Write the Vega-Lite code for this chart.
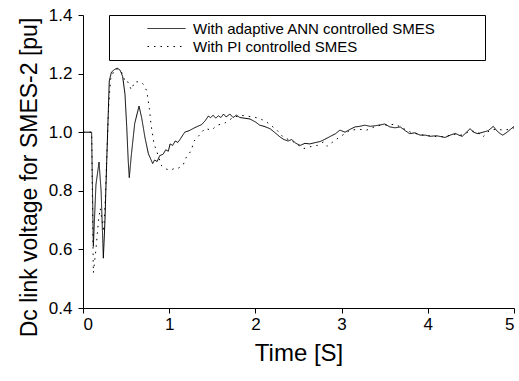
{
  "$schema": "https://vega.github.io/schema/vega-lite/v6.json",
  "width": 431,
  "height": 293,
  "autosize": {"type": "none"},
  "padding": {"left": 83, "top": 15, "right": 5, "bottom": 73},
  "background": "white",
  "config": {
    "view": {"stroke": null},
    "font": "Liberation Sans",
    "axis": {
      "grid": false,
      "domainColor": "black",
      "domainWidth": 1,
      "tickColor": "black",
      "tickSize": 5,
      "labelColor": "black",
      "labelFontSize": 17,
      "titleColor": "black",
      "titleFontSize": 24,
      "titleFontWeight": "normal"
    }
  },
  "data": {
    "values": [
      {"t": 0, "v": 1.0, "s": "With adaptive ANN controlled SMES"},
      {"t": 0.1, "v": 1.0, "s": "With adaptive ANN controlled SMES"},
      {"t": 0.12, "v": 0.61, "s": "With adaptive ANN controlled SMES"},
      {"t": 0.15, "v": 0.82, "s": "With adaptive ANN controlled SMES"},
      {"t": 0.186, "v": 0.898, "s": "With adaptive ANN controlled SMES"},
      {"t": 0.21, "v": 0.8, "s": "With adaptive ANN controlled SMES"},
      {"t": 0.236, "v": 0.57, "s": "With adaptive ANN controlled SMES"},
      {"t": 0.255, "v": 0.7, "s": "With adaptive ANN controlled SMES"},
      {"t": 0.275, "v": 0.9, "s": "With adaptive ANN controlled SMES"},
      {"t": 0.294, "v": 1.075, "s": "With adaptive ANN controlled SMES"},
      {"t": 0.305, "v": 1.175, "s": "With adaptive ANN controlled SMES"},
      {"t": 0.33, "v": 1.205, "s": "With adaptive ANN controlled SMES"},
      {"t": 0.37, "v": 1.215, "s": "With adaptive ANN controlled SMES"},
      {"t": 0.4, "v": 1.218, "s": "With adaptive ANN controlled SMES"},
      {"t": 0.43, "v": 1.212, "s": "With adaptive ANN controlled SMES"},
      {"t": 0.46, "v": 1.19, "s": "With adaptive ANN controlled SMES"},
      {"t": 0.487, "v": 1.13, "s": "With adaptive ANN controlled SMES"},
      {"t": 0.507, "v": 1.02, "s": "With adaptive ANN controlled SMES"},
      {"t": 0.525, "v": 0.9, "s": "With adaptive ANN controlled SMES"},
      {"t": 0.537, "v": 0.845, "s": "With adaptive ANN controlled SMES"},
      {"t": 0.56, "v": 0.92, "s": "With adaptive ANN controlled SMES"},
      {"t": 0.6, "v": 1.03, "s": "With adaptive ANN controlled SMES"},
      {"t": 0.65, "v": 1.089, "s": "With adaptive ANN controlled SMES"},
      {"t": 0.68, "v": 1.05, "s": "With adaptive ANN controlled SMES"},
      {"t": 0.72, "v": 0.98, "s": "With adaptive ANN controlled SMES"},
      {"t": 0.758, "v": 0.927, "s": "With adaptive ANN controlled SMES"},
      {"t": 0.808, "v": 0.893, "s": "With adaptive ANN controlled SMES"},
      {"t": 0.83, "v": 0.905, "s": "With adaptive ANN controlled SMES"},
      {"t": 0.86, "v": 0.9, "s": "With adaptive ANN controlled SMES"},
      {"t": 0.89, "v": 0.92, "s": "With adaptive ANN controlled SMES"},
      {"t": 0.93, "v": 0.925, "s": "With adaptive ANN controlled SMES"},
      {"t": 0.96, "v": 0.94, "s": "With adaptive ANN controlled SMES"},
      {"t": 0.99, "v": 0.935, "s": "With adaptive ANN controlled SMES"},
      {"t": 1.01, "v": 0.96, "s": "With adaptive ANN controlled SMES"},
      {"t": 1.04, "v": 0.955, "s": "With adaptive ANN controlled SMES"},
      {"t": 1.07, "v": 0.97, "s": "With adaptive ANN controlled SMES"},
      {"t": 1.1, "v": 0.965, "s": "With adaptive ANN controlled SMES"},
      {"t": 1.125, "v": 0.975, "s": "With adaptive ANN controlled SMES"},
      {"t": 1.18, "v": 1.0, "s": "With adaptive ANN controlled SMES"},
      {"t": 1.23, "v": 1.005, "s": "With adaptive ANN controlled SMES"},
      {"t": 1.28, "v": 1.013, "s": "With adaptive ANN controlled SMES"},
      {"t": 1.33, "v": 1.02, "s": "With adaptive ANN controlled SMES"},
      {"t": 1.377, "v": 1.026, "s": "With adaptive ANN controlled SMES"},
      {"t": 1.42, "v": 1.04, "s": "With adaptive ANN controlled SMES"},
      {"t": 1.454, "v": 1.055, "s": "With adaptive ANN controlled SMES"},
      {"t": 1.48, "v": 1.05, "s": "With adaptive ANN controlled SMES"},
      {"t": 1.51, "v": 1.058, "s": "With adaptive ANN controlled SMES"},
      {"t": 1.54, "v": 1.048, "s": "With adaptive ANN controlled SMES"},
      {"t": 1.57, "v": 1.056, "s": "With adaptive ANN controlled SMES"},
      {"t": 1.6, "v": 1.05, "s": "With adaptive ANN controlled SMES"},
      {"t": 1.63, "v": 1.062, "s": "With adaptive ANN controlled SMES"},
      {"t": 1.66, "v": 1.052, "s": "With adaptive ANN controlled SMES"},
      {"t": 1.705, "v": 1.062, "s": "With adaptive ANN controlled SMES"},
      {"t": 1.74, "v": 1.05, "s": "With adaptive ANN controlled SMES"},
      {"t": 1.78, "v": 1.058, "s": "With adaptive ANN controlled SMES"},
      {"t": 1.82, "v": 1.05, "s": "With adaptive ANN controlled SMES"},
      {"t": 1.87, "v": 1.048, "s": "With adaptive ANN controlled SMES"},
      {"t": 1.937, "v": 1.045, "s": "With adaptive ANN controlled SMES"},
      {"t": 2.0, "v": 1.035, "s": "With adaptive ANN controlled SMES"},
      {"t": 2.05, "v": 1.024, "s": "With adaptive ANN controlled SMES"},
      {"t": 2.1, "v": 1.02, "s": "With adaptive ANN controlled SMES"},
      {"t": 2.17, "v": 1.012, "s": "With adaptive ANN controlled SMES"},
      {"t": 2.22, "v": 1.0, "s": "With adaptive ANN controlled SMES"},
      {"t": 2.285, "v": 0.984, "s": "With adaptive ANN controlled SMES"},
      {"t": 2.33, "v": 0.975, "s": "With adaptive ANN controlled SMES"},
      {"t": 2.38, "v": 0.97, "s": "With adaptive ANN controlled SMES"},
      {"t": 2.42, "v": 0.975, "s": "With adaptive ANN controlled SMES"},
      {"t": 2.47, "v": 0.962, "s": "With adaptive ANN controlled SMES"},
      {"t": 2.52, "v": 0.955, "s": "With adaptive ANN controlled SMES"},
      {"t": 2.575, "v": 0.962, "s": "With adaptive ANN controlled SMES"},
      {"t": 2.63, "v": 0.96, "s": "With adaptive ANN controlled SMES"},
      {"t": 2.7, "v": 0.965, "s": "With adaptive ANN controlled SMES"},
      {"t": 2.75, "v": 0.968, "s": "With adaptive ANN controlled SMES"},
      {"t": 2.8, "v": 0.975, "s": "With adaptive ANN controlled SMES"},
      {"t": 2.865, "v": 0.985, "s": "With adaptive ANN controlled SMES"},
      {"t": 2.93, "v": 0.995, "s": "With adaptive ANN controlled SMES"},
      {"t": 2.98, "v": 1.007, "s": "With adaptive ANN controlled SMES"},
      {"t": 3.04, "v": 1.0, "s": "With adaptive ANN controlled SMES"},
      {"t": 3.1, "v": 1.01, "s": "With adaptive ANN controlled SMES"},
      {"t": 3.155, "v": 1.018, "s": "With adaptive ANN controlled SMES"},
      {"t": 3.21, "v": 1.02, "s": "With adaptive ANN controlled SMES"},
      {"t": 3.27, "v": 1.024, "s": "With adaptive ANN controlled SMES"},
      {"t": 3.33, "v": 1.02, "s": "With adaptive ANN controlled SMES"},
      {"t": 3.39, "v": 1.022, "s": "With adaptive ANN controlled SMES"},
      {"t": 3.45, "v": 1.025, "s": "With adaptive ANN controlled SMES"},
      {"t": 3.5, "v": 1.028, "s": "With adaptive ANN controlled SMES"},
      {"t": 3.56, "v": 1.018, "s": "With adaptive ANN controlled SMES"},
      {"t": 3.62, "v": 1.015, "s": "With adaptive ANN controlled SMES"},
      {"t": 3.68, "v": 1.018, "s": "With adaptive ANN controlled SMES"},
      {"t": 3.74, "v": 1.005, "s": "With adaptive ANN controlled SMES"},
      {"t": 3.79, "v": 0.995, "s": "With adaptive ANN controlled SMES"},
      {"t": 3.85, "v": 0.998, "s": "With adaptive ANN controlled SMES"},
      {"t": 3.91, "v": 0.99, "s": "With adaptive ANN controlled SMES"},
      {"t": 3.97, "v": 0.99, "s": "With adaptive ANN controlled SMES"},
      {"t": 4.03, "v": 0.986, "s": "With adaptive ANN controlled SMES"},
      {"t": 4.1, "v": 0.988, "s": "With adaptive ANN controlled SMES"},
      {"t": 4.2, "v": 0.982, "s": "With adaptive ANN controlled SMES"},
      {"t": 4.26, "v": 0.99, "s": "With adaptive ANN controlled SMES"},
      {"t": 4.32, "v": 0.996, "s": "With adaptive ANN controlled SMES"},
      {"t": 4.36, "v": 0.99, "s": "With adaptive ANN controlled SMES"},
      {"t": 4.4, "v": 0.986, "s": "With adaptive ANN controlled SMES"},
      {"t": 4.45, "v": 1.0, "s": "With adaptive ANN controlled SMES"},
      {"t": 4.49, "v": 1.012, "s": "With adaptive ANN controlled SMES"},
      {"t": 4.53, "v": 1.0, "s": "With adaptive ANN controlled SMES"},
      {"t": 4.58, "v": 0.995, "s": "With adaptive ANN controlled SMES"},
      {"t": 4.64, "v": 1.0, "s": "With adaptive ANN controlled SMES"},
      {"t": 4.7, "v": 1.005, "s": "With adaptive ANN controlled SMES"},
      {"t": 4.76, "v": 1.02, "s": "With adaptive ANN controlled SMES"},
      {"t": 4.8, "v": 1.005, "s": "With adaptive ANN controlled SMES"},
      {"t": 4.84, "v": 0.995, "s": "With adaptive ANN controlled SMES"},
      {"t": 4.87, "v": 0.99, "s": "With adaptive ANN controlled SMES"},
      {"t": 4.92, "v": 1.0, "s": "With adaptive ANN controlled SMES"},
      {"t": 4.96, "v": 1.01, "s": "With adaptive ANN controlled SMES"},
      {"t": 5.0, "v": 1.02, "s": "With adaptive ANN controlled SMES"},
      {"t": 0, "v": 1.0, "s": "With PI controlled SMES"},
      {"t": 0.1, "v": 1.0, "s": "With PI controlled SMES"},
      {"t": 0.12, "v": 0.52, "s": "With PI controlled SMES"},
      {"t": 0.15, "v": 0.6, "s": "With PI controlled SMES"},
      {"t": 0.18, "v": 0.7, "s": "With PI controlled SMES"},
      {"t": 0.2, "v": 0.74, "s": "With PI controlled SMES"},
      {"t": 0.22, "v": 0.7, "s": "With PI controlled SMES"},
      {"t": 0.24, "v": 0.66, "s": "With PI controlled SMES"},
      {"t": 0.26, "v": 0.78, "s": "With PI controlled SMES"},
      {"t": 0.28, "v": 0.95, "s": "With PI controlled SMES"},
      {"t": 0.3, "v": 1.1, "s": "With PI controlled SMES"},
      {"t": 0.32, "v": 1.18, "s": "With PI controlled SMES"},
      {"t": 0.36, "v": 1.212, "s": "With PI controlled SMES"},
      {"t": 0.4, "v": 1.216, "s": "With PI controlled SMES"},
      {"t": 0.44, "v": 1.21, "s": "With PI controlled SMES"},
      {"t": 0.47, "v": 1.19, "s": "With PI controlled SMES"},
      {"t": 0.49, "v": 1.17, "s": "With PI controlled SMES"},
      {"t": 0.52, "v": 1.172, "s": "With PI controlled SMES"},
      {"t": 0.56, "v": 1.145, "s": "With PI controlled SMES"},
      {"t": 0.6, "v": 1.172, "s": "With PI controlled SMES"},
      {"t": 0.65, "v": 1.172, "s": "With PI controlled SMES"},
      {"t": 0.68, "v": 1.17, "s": "With PI controlled SMES"},
      {"t": 0.71, "v": 1.16, "s": "With PI controlled SMES"},
      {"t": 0.74, "v": 1.14, "s": "With PI controlled SMES"},
      {"t": 0.77, "v": 1.08, "s": "With PI controlled SMES"},
      {"t": 0.79, "v": 1.024, "s": "With PI controlled SMES"},
      {"t": 0.824, "v": 0.96, "s": "With PI controlled SMES"},
      {"t": 0.855, "v": 0.935, "s": "With PI controlled SMES"},
      {"t": 0.913, "v": 0.885, "s": "With PI controlled SMES"},
      {"t": 0.96, "v": 0.875, "s": "With PI controlled SMES"},
      {"t": 1.01, "v": 0.87, "s": "With PI controlled SMES"},
      {"t": 1.05, "v": 0.875, "s": "With PI controlled SMES"},
      {"t": 1.087, "v": 0.874, "s": "With PI controlled SMES"},
      {"t": 1.16, "v": 0.887, "s": "With PI controlled SMES"},
      {"t": 1.2, "v": 0.916, "s": "With PI controlled SMES"},
      {"t": 1.26, "v": 0.938, "s": "With PI controlled SMES"},
      {"t": 1.28, "v": 0.967, "s": "With PI controlled SMES"},
      {"t": 1.35, "v": 0.99, "s": "With PI controlled SMES"},
      {"t": 1.415, "v": 1.013, "s": "With PI controlled SMES"},
      {"t": 1.49, "v": 1.007, "s": "With PI controlled SMES"},
      {"t": 1.56, "v": 1.024, "s": "With PI controlled SMES"},
      {"t": 1.65, "v": 1.032, "s": "With PI controlled SMES"},
      {"t": 1.725, "v": 1.047, "s": "With PI controlled SMES"},
      {"t": 1.82, "v": 1.058, "s": "With PI controlled SMES"},
      {"t": 1.9, "v": 1.055, "s": "With PI controlled SMES"},
      {"t": 1.975, "v": 1.052, "s": "With PI controlled SMES"},
      {"t": 2.05, "v": 1.047, "s": "With PI controlled SMES"},
      {"t": 2.13, "v": 1.035, "s": "With PI controlled SMES"},
      {"t": 2.25, "v": 1.007, "s": "With PI controlled SMES"},
      {"t": 2.32, "v": 0.984, "s": "With PI controlled SMES"},
      {"t": 2.44, "v": 0.967, "s": "With PI controlled SMES"},
      {"t": 2.56, "v": 0.944, "s": "With PI controlled SMES"},
      {"t": 2.63, "v": 0.95, "s": "With PI controlled SMES"},
      {"t": 2.72, "v": 0.955, "s": "With PI controlled SMES"},
      {"t": 2.79, "v": 0.967, "s": "With PI controlled SMES"},
      {"t": 2.83, "v": 0.952, "s": "With PI controlled SMES"},
      {"t": 2.9, "v": 0.967, "s": "With PI controlled SMES"},
      {"t": 2.98, "v": 0.984, "s": "With PI controlled SMES"},
      {"t": 3.1, "v": 1.007, "s": "With PI controlled SMES"},
      {"t": 3.2, "v": 1.01, "s": "With PI controlled SMES"},
      {"t": 3.29, "v": 1.007, "s": "With PI controlled SMES"},
      {"t": 3.38, "v": 1.018, "s": "With PI controlled SMES"},
      {"t": 3.45, "v": 1.024, "s": "With PI controlled SMES"},
      {"t": 3.55, "v": 1.025, "s": "With PI controlled SMES"},
      {"t": 3.62, "v": 1.027, "s": "With PI controlled SMES"},
      {"t": 3.7, "v": 1.015, "s": "With PI controlled SMES"},
      {"t": 3.8, "v": 1.0, "s": "With PI controlled SMES"},
      {"t": 3.9, "v": 0.992, "s": "With PI controlled SMES"},
      {"t": 4.0, "v": 0.988, "s": "With PI controlled SMES"},
      {"t": 4.1, "v": 0.985, "s": "With PI controlled SMES"},
      {"t": 4.2, "v": 0.985, "s": "With PI controlled SMES"},
      {"t": 4.3, "v": 0.993, "s": "With PI controlled SMES"},
      {"t": 4.4, "v": 0.99, "s": "With PI controlled SMES"},
      {"t": 4.5, "v": 1.005, "s": "With PI controlled SMES"},
      {"t": 4.58, "v": 1.0, "s": "With PI controlled SMES"},
      {"t": 4.64, "v": 0.984, "s": "With PI controlled SMES"},
      {"t": 4.72, "v": 1.007, "s": "With PI controlled SMES"},
      {"t": 4.8, "v": 1.01, "s": "With PI controlled SMES"},
      {"t": 4.88, "v": 1.007, "s": "With PI controlled SMES"},
      {"t": 4.95, "v": 1.01, "s": "With PI controlled SMES"},
      {"t": 5.0, "v": 1.015, "s": "With PI controlled SMES"}
    ]
  },
  "mark": {"type": "line", "color": "black", "strokeWidth": 1, "clip": true},
  "encoding": {
    "x": {
      "field": "t",
      "type": "quantitative",
      "scale": {"domain": [0, 5], "nice": false, "zero": false},
      "axis": {"values": [0, 1, 2, 3, 4, 5], "title": "Time [S]", "labelPadding": 3, "titlePadding": 9}
    },
    "y": {
      "field": "v",
      "type": "quantitative",
      "scale": {"domain": [0.4, 1.4], "nice": false, "zero": false},
      "axis": {"values": [0.4, 0.6, 0.8, 1.0, 1.2, 1.4], "format": ".1f", "title": "Dc link voltage for SMES-2 [pu]", "titleFontSize": 23, "titleY": 162, "labelPadding": 6, "titlePadding": 7}
    },
    "strokeDash": {
      "field": "s",
      "type": "nominal",
      "scale": {"domain": ["With adaptive ANN controlled SMES", "With PI controlled SMES"], "range": [[1, 0], [1.5, 5]]},
      "legend": {
        "orient": "none",
        "legendX": 26,
        "legendY": 0,
        "title": "\u00a0",
        "titleOrient": "right",
        "titlePadding": 44,
        "titleFontSize": 2,
        "strokeColor": "black",
        "fillColor": "white",
        "padding": 5,
        "symbolType": "stroke",
        "symbolSize": 1444,
        "symbolStrokeColor": "black",
        "symbolStrokeWidth": 1,
        "symbolOffset": 33,
        "clipHeight": 17,
        "rowPadding": 1,
        "labelFontSize": 15,
        "labelColor": "black",
        "labelOffset": 7,
        "labelLimit": 400
      }
    }
  }
}
